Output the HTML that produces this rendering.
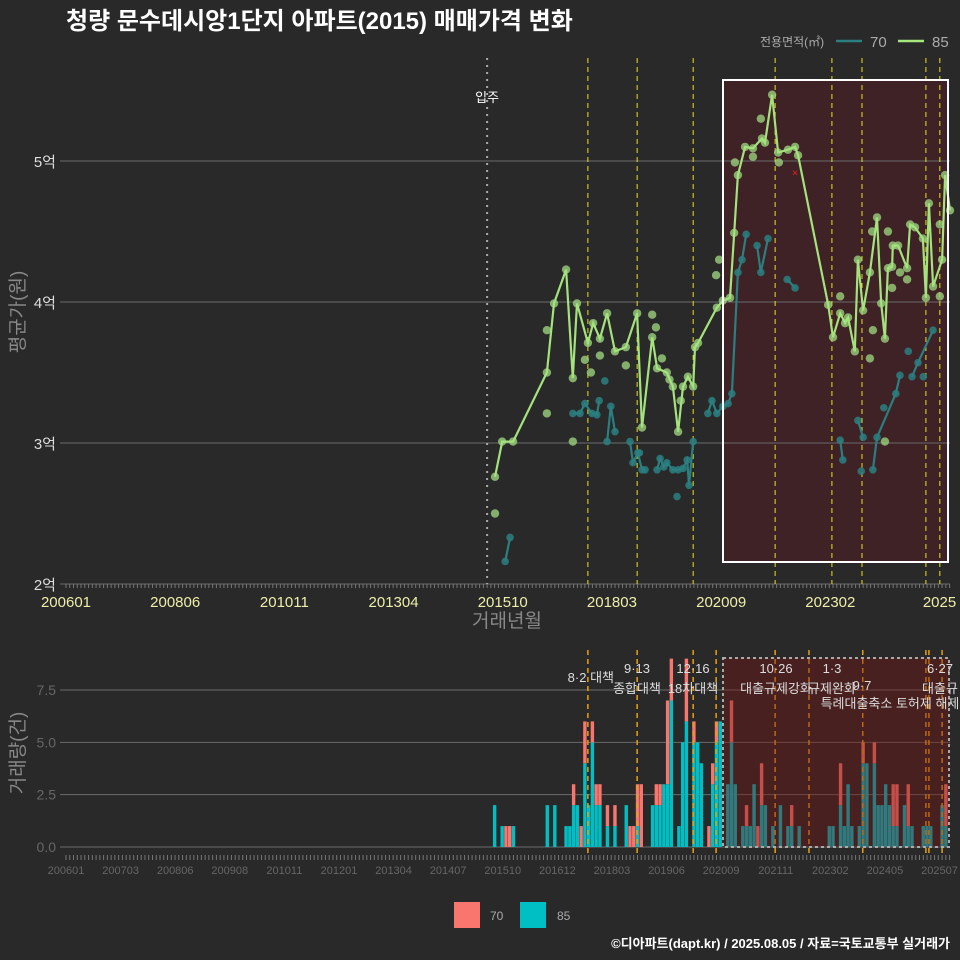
<!DOCTYPE html>
<html><head><meta charset="utf-8">
<style>
html,body{margin:0;padding:0;background:#292929;}
svg{display:block;font-family:"Liberation Sans","Noto Sans CJK KR",sans-serif;}
</style></head>
<body>
<svg id="c" width="960" height="960" viewBox="0 0 960 960" xmlns="http://www.w3.org/2000/svg">
<rect width="960" height="960" fill="#292929"/>
<text x="66" y="29" fill="#ffffff" font-size="24" font-weight="bold">청량 문수데시앙1단지 아파트(2015) 매매가격 변화</text>
<g>
<text x="760" y="46" fill="#aaaaaa" font-size="12">전용면적(㎡)</text>
<line x1="836" y1="41" x2="862" y2="41" stroke="#2a7f80" stroke-width="2.5"/>
<text x="870" y="47" fill="#aaaaaa" font-size="15">70</text>
<line x1="898" y1="41" x2="924" y2="41" stroke="#a5e87e" stroke-width="2.5"/>
<text x="932" y="47" fill="#aaaaaa" font-size="15">85</text>
</g>
<rect x="723" y="80" width="225" height="482" fill="#3e2226"/>
<g id="topg"></g>
<g id="botg"></g>
<text transform="translate(24,312) rotate(-90)" text-anchor="middle" fill="#888888" font-size="19">평균가(원)</text>
<text x="507" y="627" text-anchor="middle" fill="#888888" font-size="19">거래년월</text>
<text transform="translate(24,753) rotate(-90)" text-anchor="middle" fill="#888888" font-size="19">거래량(건)</text>
<g>
<rect x="454" y="902" width="26" height="26" fill="#f8766d"/>
<text x="490" y="920" fill="#aaaaaa" font-size="12">70</text>
<rect x="520" y="902" width="26" height="26" fill="#00bfc4"/>
<text x="557" y="920" fill="#aaaaaa" font-size="12">85</text>
</g>
<text x="950" y="948" text-anchor="end" fill="#ffffff" font-size="13" font-weight="bold">©디아파트(dapt.kr) / 2025.08.05 / 자료=국토교통부 실거래가</text>
</svg>
<script>
const t85 = [114.1,116.0,118.9,127.9,129.8,133.0,134.8,135.9,138.8,140.2,142.0,143.9,146.0,148.9,151.9,153.2,155.9,157.2,159.8,161.4,162.8,164.1,165.4,166.8,167.3,168.1,173.1,174.7,176.6,177.7,178.7,180.6,182.7,185.1,185.9,187.8,189.4,192.0,193.9,194.7,202.7,204.0,205.9,207.2,208.0,209.8,210.6,212.0,213.8,215.7,216.8,217.8,218.6,219.7,219.9,221.3,223.7,224.5,225.8,227.9,228.7,229.5,230.6,233.0,233.8,235.1];
const v85 = [2.76,3.01,3.01,3.50,3.99,4.23,3.46,3.99,3.71,3.85,3.74,3.92,3.65,3.68,3.92,3.11,3.75,3.53,3.50,3.40,3.08,3.40,3.47,3.40,3.68,3.71,3.96,4.01,4.03,4.49,4.90,5.10,5.09,5.16,5.13,5.47,5.06,5.08,5.10,5.04,3.98,3.75,3.92,3.85,3.89,3.65,4.30,3.94,4.21,4.60,3.99,3.74,4.24,4.25,4.40,4.40,4.24,4.55,4.53,4.45,4.03,4.70,4.11,4.30,4.90,4.65];
const s85t = [114.1,127.9,134.8,127.9,138.0,139.6,142.0,155.9,148.9,156.9,173.7,172.9,184.8,177.9,182.7,189.6,205.9,214.6,213.8,217.8,214.4,218.6,221.8,223.7,219.7,232.4,232.4,163.5,160.5,158.5];
const s85v = [2.50,3.21,3.01,3.80,3.59,3.50,3.62,3.91,3.55,3.82,4.30,4.19,5.30,4.99,5.03,4.99,4.04,3.80,3.60,3.01,4.50,4.50,4.21,4.16,4.10,4.55,4.04,3.30,3.45,3.60];
const t70 = [116.8,118.1,null,134.8,136.7,138.0,139.9,141.2,141.8,null,143.9,144.9,146.0,null,150.0,150.8,152.1,153.2,154.0,null,157.2,158.0,159.0,159.8,161.4,162.8,164.1,165.2,165.7,166.8,null,170.7,171.8,173.1,174.7,176.1,177.1,178.7,179.8,180.9,null,183.8,184.8,186.7,null,191.8,193.9,null,205.9,206.6,null,210.6,212.0,null,214.6,215.7,220.7,221.8,null,225.0,226.6,230.6];
const v70 = [2.16,2.33,null,3.21,3.21,3.28,3.21,3.20,3.30,null,3.01,3.26,3.08,null,3.01,2.86,2.93,2.81,2.81,null,2.81,2.89,2.83,2.86,2.81,2.81,2.82,2.88,2.70,3.01,null,3.21,3.30,3.21,3.26,3.28,3.35,4.21,4.30,4.48,null,4.40,4.21,4.45,null,4.16,4.10,null,3.02,2.88,null,3.16,3.04,null,2.81,3.04,3.35,3.48,null,3.47,3.57,3.80];
const s70t = [143.3,152.5,162.5,211.5,217.5,224.0,228.0];
const s70v = [3.44,2.93,2.62,2.80,3.25,3.65,3.47];
const xTicks = ["200601","200806","201011","201304","201510","201803","202009","202302","2025"];
const xTickM = [0,29.04,58.08,87.12,116.16,145.2,174.24,203.28,232.32];
const yTicks = [2,3,4,5];
const yTickLabels = ["2억","3억","4억","5억"];
const policyM = [138.8,151.9,166.8,188.6,203.7,211.7,228.7,232.4];
const bm = [114,116,117,118,119,128,130,133,134,135,136,137,138,139,140,141,142,144,146,149,150,151,152,153,156,157,158,159,160,161,163,164,165,167,168,169,171,172,173,174,176,177,178,180,181,182,183,184,185,186,188,190,192,193,195,203,204,206,207,208,209,211,212,213,215,216,217,218,219,220,221,223,224,225,228,229,230,233,234];
const c85 = [2,1,0,0,1,2,2,1,1,2,2,0,4,2,5,2,2,1,1,2,0,0,1,0,2,2,2,3,3,7,1,5,6,5,5,4,0,3,5,6,3,5,3,1,1,1,3,0,2,2,1,2,1,1,1,1,1,2,1,3,1,1,4,4,4,2,2,3,2,1,1,2,1,1,1,1,1,2,1];
const c70 = [0,0,1,1,0,0,0,0,0,1,0,1,2,0,1,1,1,1,1,0,1,1,2,3,0,1,1,0,4,2,0,0,3,1,0,0,1,1,1,0,0,2,0,0,1,0,0,1,2,0,0,0,0,1,0,0,0,2,0,0,0,0,1,0,1,0,0,0,0,2,2,0,2,0,0,0,0,0,2];
const bTicks = ["200601","200703","200806","200908","201011","201201","201304","201407","201510","201612","201803","201906","202009","202111","202302","202405","202507"];
const bTickM = [0,14.52,29.04,43.56,58.08,72.6,87.12,101.64,116.16,130.68,145.2,159.72,174.24,188.76,203.28,217.8,232.32];
const bVals = [0,2.5,5.0,7.5];
const bLabels = ["0.0","2.5","5.0","7.5"];
const vlineM = [138.8,151.9,166.8,172.9,188.6,197.6,211.9,228.7,229.5,233.0];

const NS="http://www.w3.org/2000/svg";
function mk(tag,attrs,parent){const e=document.createElementNS(NS,tag);for(const k in attrs)e.setAttribute(k,attrs[k]);parent.appendChild(e);return e;}
const X = m => 66 + m*3.76;
const Y = v => 584 - (v-2)*141;
const YB = c => 847 - c*20.93;
const topG = document.getElementById('topg');
const botG = document.getElementById('botg');

yTicks.forEach((v,i)=>{
  const g=mk('line',{x1:60,x2:950,y1:Y(v),y2:Y(v),stroke:'#6a6a6a','stroke-width':1},topG);
  
  
  const t=mk('text',{x:56,y:Y(v)+6,'text-anchor':'end',fill:'#dddddd','font-size':15},topG);
  t.textContent=yTickLabels[i];
  
  
});
for(let m=0;m<=235;m++){
  const l=mk('line',{x1:X(m),x2:X(m),y1:584,y2:588,stroke:'#777','stroke-width':1},topG);
  
  
}
xTicks.forEach((s,i)=>{
  const t=mk('text',{x:X(xTickM[i]),y:607,'text-anchor':'middle',fill:'#eeeeaa','font-size':15},topG);
  t.textContent=s;
  
  
});
const mv=mk('line',{x1:X(112),x2:X(112),y1:58,y2:584,stroke:'#aaaaaa','stroke-width':2,'stroke-dasharray':'2,5'},topG);


const mvt=mk('text',{x:X(112),y:102,'text-anchor':'middle',fill:'#ffffff','font-size':13},topG);
mvt.textContent='입주';


policyM.forEach(m=>{
  const l=mk('line',{x1:X(m),x2:X(m),y1:58,y2:584,stroke:'#e8e020','stroke-width':1,'stroke-dasharray':'5,4'},topG);
  
  
});
function pathOf(ts,vs){let d='',pen=false;for(let i=0;i<ts.length;i++){if(ts[i]===null){pen=false;continue;}d+=(pen?'L':'M')+X(ts[i]).toFixed(1)+','+Y(vs[i]).toFixed(1);pen=true;}return d;}
const p70=mk('path',{d:pathOf(t70,v70),fill:'none',stroke:'#2a7f80','stroke-width':2.2},topG);


t70.forEach((t,i)=>{if(t===null)return;
  const c=mk('circle',{cx:X(t),cy:Y(v70[i]),r:3.8,fill:'#2a7f80','fill-opacity':0.85},topG);
  
  });
s70t.forEach((t,i)=>{
  const c=mk('circle',{cx:X(t),cy:Y(s70v[i]),r:3.8,fill:'#2a7f80','fill-opacity':0.85},topG);
  
  });
s85t.forEach((t,i)=>{
  const c=mk('circle',{cx:X(t),cy:Y(s85v[i]),r:4.2,fill:'#9ad07c','fill-opacity':0.8},topG);
  
  });
t85.forEach((t,i)=>{
  const c=mk('circle',{cx:X(t),cy:Y(v85[i]),r:4.2,fill:'#9ad07c','fill-opacity':0.8},topG);
  
  });
const p85=mk('path',{d:pathOf(t85,v85),fill:'none',stroke:'#a3e27c','stroke-width':2.2},topG);


const xm=mk('text',{x:X(193.9),y:Y(4.92)+4,'text-anchor':'middle',fill:'#e02020','font-size':11},topG);
xm.textContent='×';


const hr=mk('rect',{x:723,y:80,width:225,height:482,fill:'none',stroke:'#ffffff','stroke-width':2},topG);



bVals.forEach((v,i)=>{
  const g=mk('line',{x1:60,x2:950,y1:YB(v),y2:YB(v),stroke:'#6a6a6a','stroke-width':1},botG);
  
  
  const t=mk('text',{x:56,y:YB(v)+5,'text-anchor':'end',fill:'#666666','font-size':14},botG);
  t.textContent=bLabels[i];
  
  
});
for(let m=0;m<=235;m++){
  const l=mk('line',{x1:X(m),x2:X(m),y1:855,y2:860,stroke:'#777','stroke-width':1},botG);
  
  
}
bTicks.forEach((s,i)=>{
  const t=mk('text',{x:X(bTickM[i]),y:874,'text-anchor':'middle',fill:'#666666','font-size':11},botG);
  t.textContent=s;
  
  
});
bm.forEach((m,i)=>{
  const x=X(m)-1.7;
  if(c85[i]>0){const r=mk('rect',{x:x,y:YB(c85[i]),width:3.4,height:c85[i]*20.93,fill:'#00bfc4'},botG);
    
    }
  if(c70[i]>0){const r=mk('rect',{x:x,y:YB(c85[i]+c70[i]),width:3.4,height:c70[i]*20.93,fill:'#f8766d'},botG);
    
    }
});
vlineM.forEach(m=>{
  const l=mk('line',{x1:X(m),x2:X(m),y1:650,y2:855,stroke:'#e8a010','stroke-width':1.5,'stroke-dasharray':'5,4'},botG);
  
  
});
const br=mk('rect',{x:723,y:658,width:226,height:189,fill:'rgba(120,20,20,0.4)',stroke:'#aaaaaa','stroke-width':2,'stroke-dasharray':'3,3'},botG);


const ann=[["8·2 대책",614,682,"end"],["9·13",637,673,"middle"],["종합대책",637,693,"middle"],["12·16",693,673,"middle"],["18차대책",693,693,"middle"],["10·26",776,673,"middle"],["대출규제강화",776,693,"middle"],["1·3",832,673,"middle"],["규제완화",832,693,"middle"],["9·7",862,690,"middle"],["특례대출축소 토허제 해제",890,708,"middle"],["6·27",940,673,"middle"],["대출규",940,693,"middle"]];
ann.forEach(a=>{
  const t=mk('text',{x:a[1],y:a[2],'text-anchor':a[3],fill:'#dddddd','font-size':13},botG);
  t.textContent=a[0];
  
  
});
</script>
</body></html>
